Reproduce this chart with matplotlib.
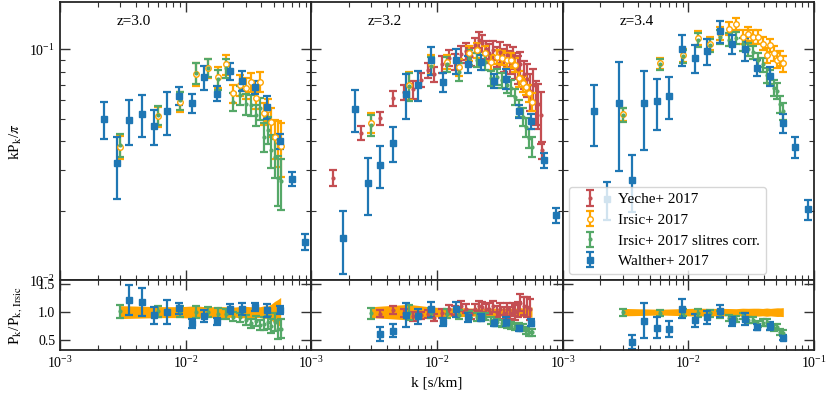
import numpy as np
import matplotlib.pyplot as plt
from matplotlib.ticker import NullFormatter

plt.rcParams['font.family'] = 'serif'
plt.rcParams['font.serif'] = ['Liberation Serif', 'DejaVu Serif']
plt.rcParams['mathtext.fontset'] = 'stix'

z_labels = ['z=3.0', 'z=3.2', 'z=3.4']

# Irsic+ 2017 (XQ-100) bins
k_irsic = [0.003, 0.006, 0.009, 0.012, 0.015, 0.018, 0.021, 0.024, 0.027, 0.030,
           0.033, 0.036, 0.039, 0.042, 0.045, 0.048, 0.051, 0.054, 0.057]

irsic_p_30 = [0.0379, 0.0514, 0.0593, 0.0783, 0.0826, 0.0760, 0.0859, 0.0644, 0.0700, 0.0677,
              0.0720, 0.0613, 0.0723, 0.0528, 0.0550, 0.0486, 0.0416, 0.0400, 0.0380]
irsic_e_30 = [0.0044, 0.0051, 0.0058, 0.0088, 0.0077, 0.0078, 0.0083, 0.0058, 0.0070, 0.0070,
              0.0070, 0.0060, 0.0070, 0.0060, 0.0060, 0.0070, 0.0080, 0.0090, 0.0100]
irsic_p_32 = [0.0481, 0.0700, 0.0860, 0.0882, 0.0839, 0.0961, 0.0990, 0.0958, 0.0880, 0.0926,
              0.0920, 0.0897, 0.0897, 0.0853, 0.0748, 0.0711, 0.0688, 0.0644, 0.0593]
irsic_e_32 = [0.0047, 0.0098, 0.0080, 0.0065, 0.0070, 0.0070, 0.0070, 0.0070, 0.0065, 0.0065,
              0.0065, 0.0065, 0.0065, 0.0060, 0.0060, 0.0055, 0.0055, 0.0055, 0.0055]
irsic_p_34 = [0.0523, 0.0868, 0.0942, 0.1120, 0.1058, 0.1172, 0.1228, 0.1290, 0.1130, 0.1169,
              0.1130, 0.1130, 0.1058, 0.0942, 0.1040, 0.0958, 0.0897, 0.0912, 0.0868]
irsic_e_34 = [0.0035, 0.0045, 0.0060, 0.0080, 0.0070, 0.0080, 0.0080, 0.0080, 0.0080, 0.0080,
              0.0080, 0.0080, 0.0070, 0.0070, 0.0070, 0.0070, 0.0070, 0.0070, 0.0070]

# Irsic+ 2017 with slit resolution correction
slit_p_30 = [0.0385, 0.0520, 0.0600, 0.0790, 0.0830, 0.0740, 0.0830, 0.0593, 0.0633, 0.0579,
             0.0574, 0.0519, 0.0555, 0.0419, 0.0448, 0.0367, 0.0343, 0.0277, 0.0268]
slit_e_30 = [0.0044, 0.0050, 0.0056, 0.0085, 0.0075, 0.0072, 0.0080, 0.0055, 0.0060, 0.0060,
             0.0060, 0.0055, 0.0060, 0.0060, 0.0060, 0.0060, 0.0065, 0.0067, 0.0067]
slit_p_32 = [0.0470, 0.0690, 0.0850, 0.0860, 0.0800, 0.0920, 0.0900, 0.0880, 0.0748, 0.0760,
             0.0733, 0.0700, 0.0680, 0.0623, 0.0555, 0.0511, 0.0462, 0.0412, 0.0379]
slit_e_32 = [0.0047, 0.0095, 0.0078, 0.0064, 0.0068, 0.0068, 0.0066, 0.0064, 0.0058, 0.0058,
             0.0056, 0.0055, 0.0054, 0.0050, 0.0048, 0.0045, 0.0043, 0.0040, 0.0038]
slit_p_34 = [0.0520, 0.0860, 0.0930, 0.1100, 0.1040, 0.1130, 0.1100, 0.1120, 0.1050, 0.1000,
             0.0970, 0.0897, 0.0860, 0.0770, 0.0760, 0.0680, 0.0660, 0.0580, 0.0540]
slit_e_34 = [0.0035, 0.0045, 0.0058, 0.0078, 0.0068, 0.0075, 0.0072, 0.0070, 0.0068, 0.0066,
             0.0064, 0.0062, 0.0060, 0.0058, 0.0056, 0.0054, 0.0052, 0.0050, 0.0048]

# Yeche+ 2017, only z=3.2
k_yeche = [0.0015, 0.0025, 0.0035, 0.0045, 0.0055, 0.0065, 0.0075, 0.0085, 0.0095, 0.0110,
           0.0125, 0.0140, 0.0155, 0.0170, 0.0185, 0.0200, 0.0215, 0.0230, 0.0245, 0.0260,
           0.0280, 0.0300, 0.0320, 0.0340, 0.0360, 0.0380, 0.0400, 0.0420, 0.0440, 0.0460,
           0.0490, 0.0520, 0.0550, 0.0580, 0.0610, 0.0640, 0.0670, 0.0690]
yeche_p_32 = [0.0277, 0.0435, 0.0503, 0.0613, 0.0650, 0.0670, 0.0735, 0.0810, 0.0780, 0.0860,
              0.0920, 0.0880, 0.0950, 0.0980, 0.0930, 0.1040, 0.1100, 0.1060, 0.1000, 0.0960,
              0.0990, 0.0930, 0.0970, 0.0900, 0.0940, 0.0880, 0.0920, 0.0850, 0.0820, 0.0860,
              0.0780, 0.0740, 0.0660, 0.0700, 0.0600, 0.0580, 0.0520, 0.0365]
yeche_e_32 = [0.0022, 0.0030, 0.0034, 0.0045, 0.0050, 0.0060, 0.0050, 0.0060, 0.0060, 0.0070,
              0.0070, 0.0070, 0.0080, 0.0080, 0.0080, 0.0080, 0.0090, 0.0090, 0.0090, 0.0090,
              0.0090, 0.0090, 0.0100, 0.0100, 0.0100, 0.0100, 0.0100, 0.0110, 0.0110, 0.0110,
              0.0110, 0.0120, 0.0120, 0.0120, 0.0130, 0.0130, 0.0130, 0.0030]

# Walther+ 2017
k_walther = [0.00178, 0.00224, 0.00282, 0.00355, 0.00447, 0.00562, 0.00708, 0.00891, 0.0112,
             0.0141, 0.0178, 0.0224, 0.0282, 0.0355, 0.0447, 0.0562, 0.0708, 0.0891]
walther_p_30 = [np.nan, 0.0500, 0.0321, 0.0494, 0.0525, 0.0467, 0.0541, 0.0630, 0.0585,
                0.0757, 0.0642, 0.0804, 0.0730, 0.0684, 0.0564, 0.0400, 0.0275, 0.0147]
walther_e_30 = [np.nan, 0.0090, 0.0095, 0.0110, 0.0110, 0.0080, 0.0115, 0.0057, 0.0057,
                0.0089, 0.0048, 0.0067, 0.0073, 0.0045, 0.0064, 0.0031, 0.0020, 0.0011]
walther_p_32 = [0.0153, 0.0553, 0.0264, 0.0316, 0.0393, 0.0638, 0.0700, 0.0897, 0.0719,
                0.0894, 0.0864, 0.0879, 0.0728, 0.0745, 0.0539, 0.0490, 0.0331, 0.0191]
walther_e_32 = [0.0046, 0.0115, 0.0073, 0.0064, 0.0069, 0.0140, 0.0103, 0.0120, 0.0068,
                0.0110, 0.0073, 0.0065, 0.0050, 0.0072, 0.0036, 0.0037, 0.0025, 0.0014]
walther_p_34 = [0.0542, 0.0225, 0.0587, 0.0272, 0.0587, 0.0595, 0.0630, 0.1000, 0.0915,
                0.0980, 0.1196, 0.1051, 0.1003, 0.0831, 0.0767, 0.0478, 0.0379, 0.0203]
walther_e_34 = [0.0160, 0.0042, 0.0290, 0.0075, 0.0220, 0.0150, 0.0130, 0.0156, 0.0130,
                0.0128, 0.0128, 0.0100, 0.0117, 0.0067, 0.0074, 0.0045, 0.0039, 0.0020]

irsic_p = [irsic_p_30, irsic_p_32, irsic_p_34]
irsic_e = [irsic_e_30, irsic_e_32, irsic_e_34]
slit_p = [slit_p_30, slit_p_32, slit_p_34]
slit_e = [slit_e_30, slit_e_32, slit_e_34]
walther_p = [walther_p_30, walther_p_32, walther_p_34]
walther_e = [walther_e_30, walther_e_32, walther_e_34]

c_yeche = '#C44E52'
c_irsic = '#FFA500'
c_slit = '#55A868'
c_walther = '#1f77b4'
ekw = dict(ls='none', capsize=3, elinewidth=1.6, capthick=1.6)

fig = plt.figure(figsize=(8.3, 3.98), dpi=100)
gs = fig.add_gridspec(2, 3, height_ratios=[4, 1], hspace=0, wspace=0,
                      left=0.0723, right=0.9807, top=0.995, bottom=0.1206)

top_axes, bot_axes = [], []
ki = np.array(k_irsic)
kw = np.array(k_walther)
for i in range(3):
    ax = fig.add_subplot(gs[0, i])
    axr = fig.add_subplot(gs[1, i])
    top_axes.append(ax); bot_axes.append(axr)

    pi = np.array(irsic_p[i]); ei = np.array(irsic_e[i])
    ps = np.array(slit_p[i]); es = np.array(slit_e[i])
    pw = np.array(walther_p[i]); ew = np.array(walther_e[i])

    if i == 1:
        ky = np.array(k_yeche); py = np.array(yeche_p_32); ey = np.array(yeche_e_32)
        ax.errorbar(ky, py, ey, fmt='.', color=c_yeche, ms=4, label='Yeche+ 2017', **ekw)
        m = (ky >= ki[0]) & (ky <= ki[-1])
        ref = np.interp(ky[m], ki, pi)
        axr.errorbar(ky[m], py[m] / ref, ey[m] / ref, fmt='.', color=c_yeche, ms=4, **ekw)

    ax.errorbar(ki, pi, ei, fmt='o', color=c_irsic, mfc='white', mec=c_irsic, ms=4,
                label='Irsic+ 2017', **ekw)
    ax.errorbar(ki, ps, es, fmt='.', color=c_slit, ms=4,
                label='Irsic+ 2017 slitres corr.', **ekw)
    ax.errorbar(kw, pw, ew, fmt='s', color=c_walther, ms=5, label='Walther+ 2017', **ekw)

    # ratio panel
    axr.fill_between(ki, 1 - ei / pi, 1 + ei / pi, color=c_irsic, lw=0, zorder=1)
    axr.errorbar(ki, ps / pi, es / pi, fmt='.', color=c_slit, ms=4, **ekw)
    m = (kw >= ki[0]) & (kw <= ki[-1]) & np.isfinite(pw)
    ref = np.interp(kw[m], ki, pi)
    axr.errorbar(kw[m], pw[m] / ref, ew[m] / ref, fmt='s', color=c_walther, ms=5, **ekw)

    ax.set_xscale('log'); ax.set_yscale('log')
    ax.set_xlim(1e-3, 1e-1); ax.set_ylim(0.01, 0.16)
    axr.set_xscale('log')
    axr.set_xlim(1e-3, 1e-1); axr.set_ylim(0.32, 1.57)
    axr.set_yticks([0.5, 1.0, 1.5])
    if i < 2:
        axr.set_xticks([1e-3, 1e-2])
    ax.text(0.225, 0.93, z_labels[i], transform=ax.transAxes, fontsize=11, va='center')

    for a in (ax, axr):
        a.tick_params(which='both', direction='in', top=True, right=True,
                      labelsize=10, color='0.2')
        a.tick_params(which='major', length=7, width=1)
        a.tick_params(which='minor', length=3.5, width=0.8)
        a.xaxis.set_minor_formatter(NullFormatter())
        a.yaxis.set_minor_formatter(NullFormatter())
        for s in a.spines.values():
            s.set_linewidth(1.3); s.set_color('0.15')
    ax.tick_params(labelbottom=False)
    if i > 0:
        ax.tick_params(labelleft=False)
        axr.tick_params(labelleft=False)

top_axes[0].set_ylabel(r'kP$_\mathrm{k}$/$\pi$', fontsize=11)
bot_axes[0].set_ylabel(r'P$_\mathrm{k}$/P$_\mathrm{k,\,Irsic}$', fontsize=11)
bot_axes[1].set_xlabel('k [s/km]', fontsize=11)
fig.align_ylabels([top_axes[0], bot_axes[0]])

h, l = top_axes[1].get_legend_handles_labels()
top_axes[2].legend(h, l, loc='lower left', fontsize=11, framealpha=0.8,
                   labelspacing=0.45, borderaxespad=0.4)

fig.savefig('out.png', dpi=100)
